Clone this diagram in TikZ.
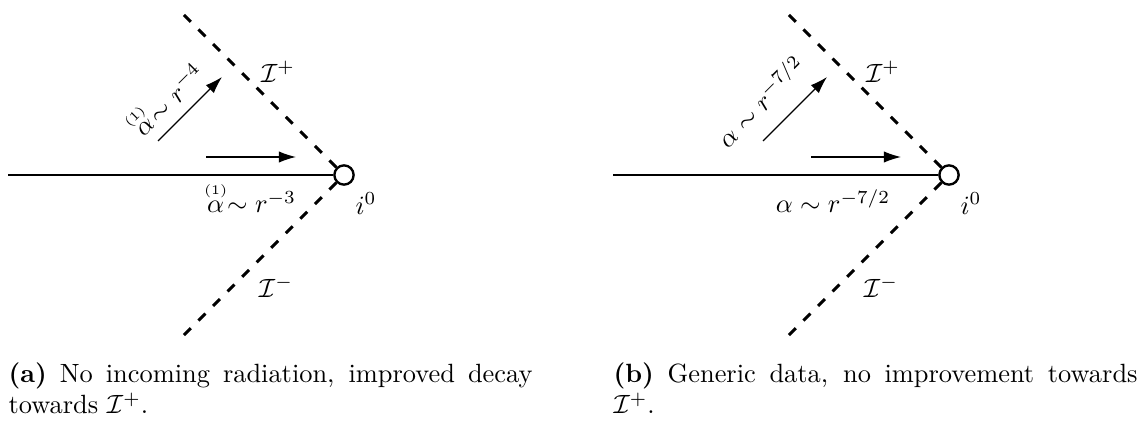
\documentclass[tikz,border=0pt]{standalone}
\usepackage{amsmath}
\usetikzlibrary{arrows.meta}

\tikzset{
  nullinf/.style={line width=1.1pt, dash pattern=on 3.7pt off 4.1pt},
  spatial/.style={line width=0.45pt},
  flow/.style={line width=0.45pt, -{Latex[length=6.5pt,width=4.3pt]}},
  spatialinf/.style={circle, draw, line width=0.9pt, fill=white, inner sep=0pt, minimum size=7.3pt},
  capbox/.style={anchor=north west, inner sep=0pt, text width=198.6pt, align=justify}
}
\newcommand{\alphaone}{\stackrel{\scriptscriptstyle(1)}{\alpha}}

\begin{document}
\begin{tikzpicture}[x=0.379pt, y=-0.379pt]
    \useasboundingbox (0,0) rectangle (1148,421);

    % (a) no incoming radiation
    \node[spatialinf] (iA) at (344,175) {};
    \coordinate (farA) at (8,175);
    \coordinate (topA) at (177,8);
    \coordinate (botA) at (177,342);
    \draw[spatial] (farA) -- (iA);
    \draw[nullinf] (iA) -- (topA);
    \draw[nullinf] (iA) -- (botA);
    \coordinate (hA1) at (206,157);
    \coordinate (hA2) at (296,157);
    \coordinate (dA1) at (158,141);
    \coordinate (dA2) at (222,77);
    \draw[flow] (hA1) -- (hA2);
    \draw[flow] (dA1) -- (dA2);
    \node[rotate=45] (lA1) at (164,97) {$\alphaone\sim r^{-4}$};
    \node[anchor=base] (lA2) at (250,213) {$\alphaone\sim r^{-3}$};
    \node (scriA) at (278,72) {$\mathcal{I}^+$};
    \node[anchor=base] (scrmA) at (276,297) {$\mathcal{I}^-$};
    \node[anchor=base] (nA) at (366,214) {$i^0$};
    \node[capbox] (capA) at (8,362) {\textbf{(a)} No incoming radiation, improved decay\linebreak towards $\mathcal{I}^+$.};

    % (b) generic data
    \node[spatialinf] (iB) at (949,175) {};
    \coordinate (farB) at (613,175);
    \coordinate (topB) at (782,8);
    \coordinate (botB) at (782,342);
    \draw[spatial] (farB) -- (iB);
    \draw[nullinf] (iB) -- (topB);
    \draw[nullinf] (iB) -- (botB);
    \coordinate (hB1) at (811,157);
    \coordinate (hB2) at (901,157);
    \coordinate (dB1) at (763,141);
    \coordinate (dB2) at (827,77);
    \draw[flow] (hB1) -- (hB2);
    \draw[flow] (dB1) -- (dB2);
    \node[rotate=45] (lB1) at (760,101) {$\alpha\sim r^{-7/2}$};
    \node[anchor=base] (lB2) at (833,213) {$\alpha\sim r^{-7/2}$};
    \node (scriB) at (883,72) {$\mathcal{I}^+$};
    \node[anchor=base] (scrmB) at (881,297) {$\mathcal{I}^-$};
    \node[anchor=base] (nB) at (971,214) {$i^0$};
    \node[capbox] (capB) at (613,362) {\textbf{(b)} Generic data, no improvement towards\linebreak $\mathcal{I}^+$.};
\end{tikzpicture}
\end{document}
